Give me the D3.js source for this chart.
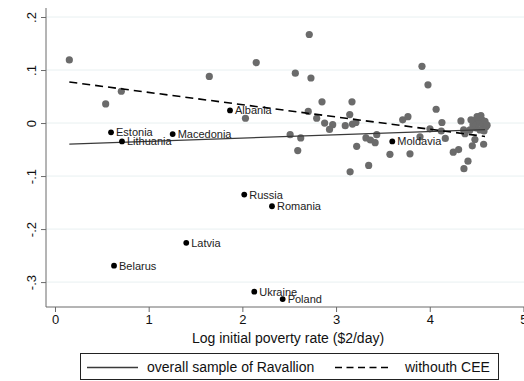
<!DOCTYPE html>
<html><head><meta charset="utf-8">
<script src="https://cdn.jsdelivr.net/npm/d3@7"></script>
<style>body{margin:0;background:#fff}svg{display:block;font-family:"Liberation Sans",Arial,sans-serif}</style>
</head><body><svg id="c" width="524" height="381"></svg>
<script>
// Other countries (gray)
const otherX = [0.153,0.541,0.708,1.647,2.148,2.033,2.714,2.565,2.732,2.850,3.170,2.703,2.793,2.878,2.964,2.930,3.146,3.098,3.175,3.212,2.510,2.623,2.591,3.220,3.319,3.367,3.417,3.434,3.150,3.348,3.575,3.789,3.917,3.981,4.068,3.711,3.767,4.130,4.333,4.002,4.123,4.166,3.896,4.251,4.308,4.408,4.365,4.454,4.575,4.362,4.376,4.482,4.493,4.525,4.557,4.514,4.568,4.493,4.536,4.579,4.461,4.429,4.600,4.546,4.440,4.590,4.612,4.505];
const otherY = [0.119,0.036,0.060,0.088,0.114,0.009,0.167,0.094,0.085,0.040,0.040,0.022,0.009,0.000,-0.003,-0.012,0.016,-0.005,-0.002,0.001,-0.022,-0.028,-0.052,-0.044,-0.028,-0.032,-0.037,-0.022,-0.092,-0.080,-0.059,-0.058,0.107,0.072,0.026,0.006,0.012,0.001,0.004,-0.011,-0.015,-0.029,-0.026,-0.055,-0.050,-0.072,-0.086,-0.043,-0.040,-0.013,-0.020,-0.031,0.006,0.010,0.006,-0.001,-0.003,-0.009,-0.013,-0.015,-0.003,-0.013,-0.007,0.014,0.006,0.003,-0.004,0.012];
// CEE countries (black, labelled)
const ceeNames = ["Estonia","Lithuania","Macedonia","Albania","Moldavia","Russia","Romania","Latvia","Belarus","Ukraine","Poland"];
const ceeX = [0.598,0.715,1.256,1.868,3.600,2.020,2.316,1.401,0.630,2.127,2.430];
const ceeY = [-0.0175,-0.0347,-0.0208,0.0238,-0.0347,-0.135,-0.157,-0.226,-0.269,-0.318,-0.332];
// fitted lines
const fitX = [0.153, 4.59];
const fitAllY = [-0.0396, -0.0126];
const fitNoCeeY = [0.0774, -0.0253];
const xTicks = [0,1,2,3,4,5];
const yTicks = [-0.3,-0.2,-0.1,0,0.1,0.2];
const yTickLabels = ["-.3","-.2","-.1","0",".1",".2"];
const legendLabels = ["overall sample of Ravallion","withouth CEE"];

const svg = d3.select("#c");
const x = d3.scaleLinear().domain([-0.096, 5.07]).range([46, 530]);
const y = d3.scaleLinear().domain([-0.347, 0.217]).range([307, 8]);

// gridlines
svg.append("g").selectAll("line").data(yTicks).join("line")
  .attr("x1", 46).attr("x2", 530).attr("y1", d=>y(d)).attr("y2", d=>y(d))
  .attr("stroke", "#e8f0f1").attr("stroke-width", 1);

// axes
const yAxis = svg.append("g").attr("transform","translate(46,0)")
  .call(d3.axisLeft(y).tickValues(yTicks).tickFormat((d,i)=>yTickLabels[i]).tickSize(5).tickPadding(4));
yAxis.select(".domain").attr("stroke","#6a6a6a").attr("d","M0,8V307");
yAxis.selectAll(".tick line").attr("stroke","#6a6a6a");
yAxis.selectAll(".tick text").attr("font-size",13).attr("fill","#111")
  .attr("transform","rotate(-90)").attr("text-anchor","middle")
  .attr("x",0).attr("y",-10).attr("dy","0");

const xAxis = svg.append("g").attr("transform","translate(0,307)")
  .call(d3.axisBottom(x).tickValues(xTicks).tickFormat(d3.format("d")).tickSize(5).tickPadding(3));
xAxis.select(".domain").attr("stroke","#6a6a6a").attr("d","M46,0H530");
xAxis.selectAll(".tick line").attr("stroke","#6a6a6a");
xAxis.selectAll(".tick text").attr("font-size",13).attr("fill","#111");

svg.append("text").attr("x", 288).attr("y", 343).attr("text-anchor","middle")
  .attr("font-size",14).attr("fill","#111").text("Log initial poverty rate ($2/day)");

// gray points
svg.append("g").selectAll("circle").data(otherX).join("circle")
  .attr("cx",(d)=>x(d)).attr("cy",(d,i)=>y(otherY[i])).attr("r",3.6).attr("fill","#6b6b6b");

// fitted lines
const line = d3.line().x(d=>x(d[0])).y(d=>y(d[1]));
svg.append("path").datum(fitX.map((v,i)=>[v,fitAllY[i]])).attr("d",line)
  .attr("fill","none").attr("stroke","#3a3a3a").attr("stroke-width",1.3);
svg.append("path").datum(fitX.map((v,i)=>[v,fitNoCeeY[i]])).attr("d",line)
  .attr("fill","none").attr("stroke","#000").attr("stroke-width",1.6).attr("stroke-dasharray","8,5");

// CEE points + labels
const cee = svg.append("g").selectAll("g").data(ceeNames).join("g");
cee.append("circle").attr("cx",(d,i)=>x(ceeX[i])).attr("cy",(d,i)=>y(ceeY[i])).attr("r",2.9).attr("fill","#000");
cee.append("text").attr("x",(d,i)=>x(ceeX[i])+5).attr("y",(d,i)=>y(ceeY[i])+4)
  .attr("font-size",11).attr("fill","#222").text(d=>d);

// legend
svg.append("rect").attr("x",80.5).attr("y",353.5).attr("width",418).attr("height",26)
  .attr("fill","#fff").attr("stroke","#222").attr("stroke-width",1);
svg.append("line").attr("x1",87).attr("x2",138).attr("y1",367.5).attr("y2",367.5).attr("stroke","#3a3a3a").attr("stroke-width",1.3);
svg.append("text").attr("x",147).attr("y",372).attr("font-size",14).attr("fill","#111").text(legendLabels[0]);
svg.append("line").attr("x1",335).attr("x2",392).attr("y1",367.5).attr("y2",367.5).attr("stroke","#000").attr("stroke-width",1.3).attr("stroke-dasharray","7,4.5");
svg.append("text").attr("x",405).attr("y",372).attr("font-size",14).attr("fill","#111").text(legendLabels[1]);
</script></body></html>
